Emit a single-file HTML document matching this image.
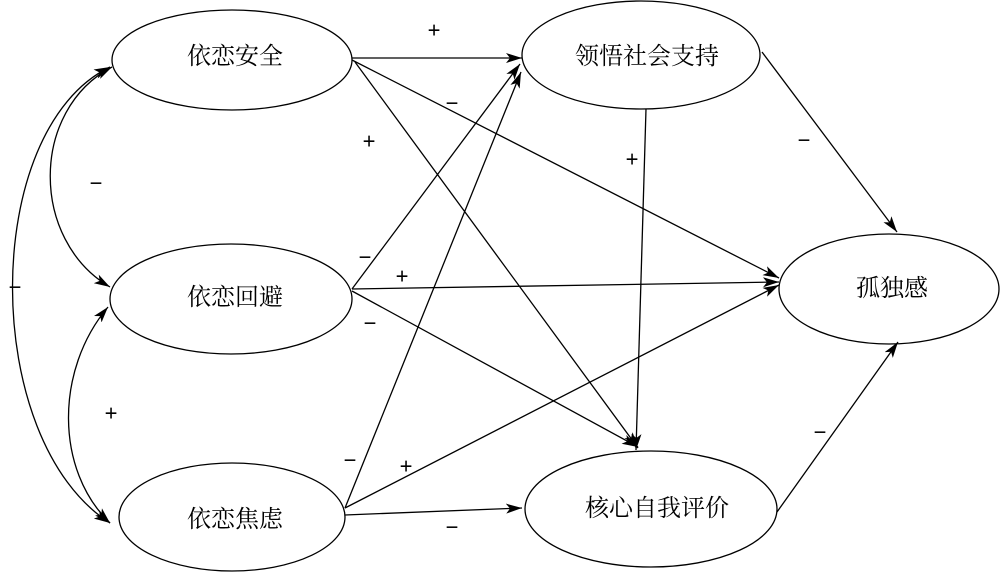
<!DOCTYPE html>
<html><head><meta charset="utf-8"><style>
html,body{margin:0;padding:0;background:#fff;}
svg{display:block;}
text{font-family:"Liberation Serif","Noto Serif CJK SC","Noto Sans CJK SC",serif;fill:#000;}
.s text{font-family:"Liberation Sans","DejaVu Sans",sans-serif;}
</style></head><body>
<svg width="1000" height="573" viewBox="0 0 1000 573" xmlns="http://www.w3.org/2000/svg">
<defs>
<marker id="a" viewBox="0 0 16 10" refX="16" refY="5" markerWidth="16" markerHeight="10" markerUnits="userSpaceOnUse" orient="auto-start-reverse">
<path d="M0,0 L16,5 L0,10 L4,5 Z" fill="#000"/>
</marker>
</defs>
<g fill="none" stroke="#000" stroke-width="1.3">
<ellipse cx="232" cy="60" rx="120" ry="50"/>
<ellipse cx="231" cy="299" rx="121" ry="55"/>
<ellipse cx="232" cy="517" rx="113" ry="54"/>
<ellipse cx="641" cy="55" rx="119" ry="54"/>
<ellipse cx="889" cy="289" rx="110" ry="55"/>
<ellipse cx="651" cy="509" rx="126" ry="58"/>
</g>
<g fill="none" stroke="#000" stroke-width="1.3" marker-end="url(#a)">
<line x1="352" y1="58" x2="522" y2="58"/>
<line x1="352" y1="60" x2="779" y2="278"/>
<line x1="355" y1="62" x2="638" y2="448"/>
<line x1="352" y1="289" x2="520" y2="64"/>
<line x1="352" y1="289" x2="779" y2="282"/>
<line x1="352" y1="291" x2="638" y2="447"/>
<line x1="345" y1="508" x2="521" y2="72"/>
<line x1="345" y1="508" x2="779" y2="285"/>
<line x1="345" y1="515" x2="522" y2="508"/>
<line x1="646" y1="109" x2="636" y2="450"/>
<line x1="762" y1="52" x2="897" y2="232"/>
<line x1="777" y1="512" x2="898" y2="342"/>
<path d="M112,67 C30,110 30,240 110,287" marker-start="url(#a)"/>
<path d="M108,307 C55,370 55,470 110,523" marker-start="url(#a)"/>
<path d="M110,67 C-20,130 -20,440 110,523" marker-start="url(#a)"/>
</g>
<g font-size="24" text-anchor="middle" dominant-baseline="central">
<text x="235" y="57">依恋安全</text>
<text x="235" y="298">依恋回避</text>
<text x="235" y="520">依恋焦虑</text>
<text x="647" y="57">领悟社会支持</text>
<text x="892" y="289">孤独感</text>
<text x="657" y="509">核心自我评价</text>
</g>
<g class="s" font-size="22" text-anchor="middle" dominant-baseline="central">
<text x="434" y="30">+</text>
<text x="452" y="103">−</text>
<text x="369" y="141">+</text>
<text x="365" y="257">−</text>
<text x="402" y="276">+</text>
<text x="370" y="323">−</text>
<text x="350" y="460">−</text>
<text x="406" y="466">+</text>
<text x="452" y="527">−</text>
<text x="632" y="159">+</text>
<text x="804" y="140">−</text>
<text x="820" y="432">−</text>
<text x="96" y="183">−</text>
<text x="111" y="413">+</text>
<text x="15" y="287">−</text>
</g>
</svg>
</body></html>
